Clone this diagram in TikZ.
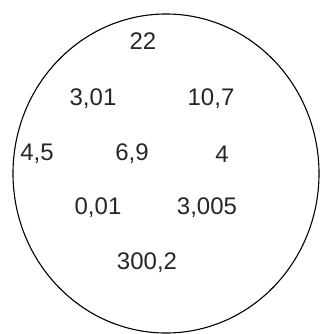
\documentclass[tikz,border=0pt]{standalone}
\usepackage{fontspec}
\setmainfont{Liberation Sans}
\usepackage{tikz}

\begin{document}
\begin{tikzpicture}[x=1pt,y=-1pt,
  val/.style={font=\fontsize{24}{28}\selectfont,text=black!85,inner sep=0pt},
  rim/.style={draw=black,line width=1.1pt}]
\useasboundingbox (0,0) rectangle (323,334);
\draw[rim] (166,173.5) ellipse [x radius=153,y radius=159.5];
\node[val] (a) at (143,41) {22};
\node[val] (b) at (93,99) {3,01};
\node[val] (c) at (211,99) {10,7};
\node[val] (d) at (37,154) {4,5};
\node[val] (e) at (132,154) {6,9};
\node[val] (f) at (222,154) {4};
\node[val] (g) at (98,208) {0,01};
\node[val] (h) at (207,208) {3,005};
\node[val] (i) at (147,263) {300,2};
\end{tikzpicture}
\end{document}
